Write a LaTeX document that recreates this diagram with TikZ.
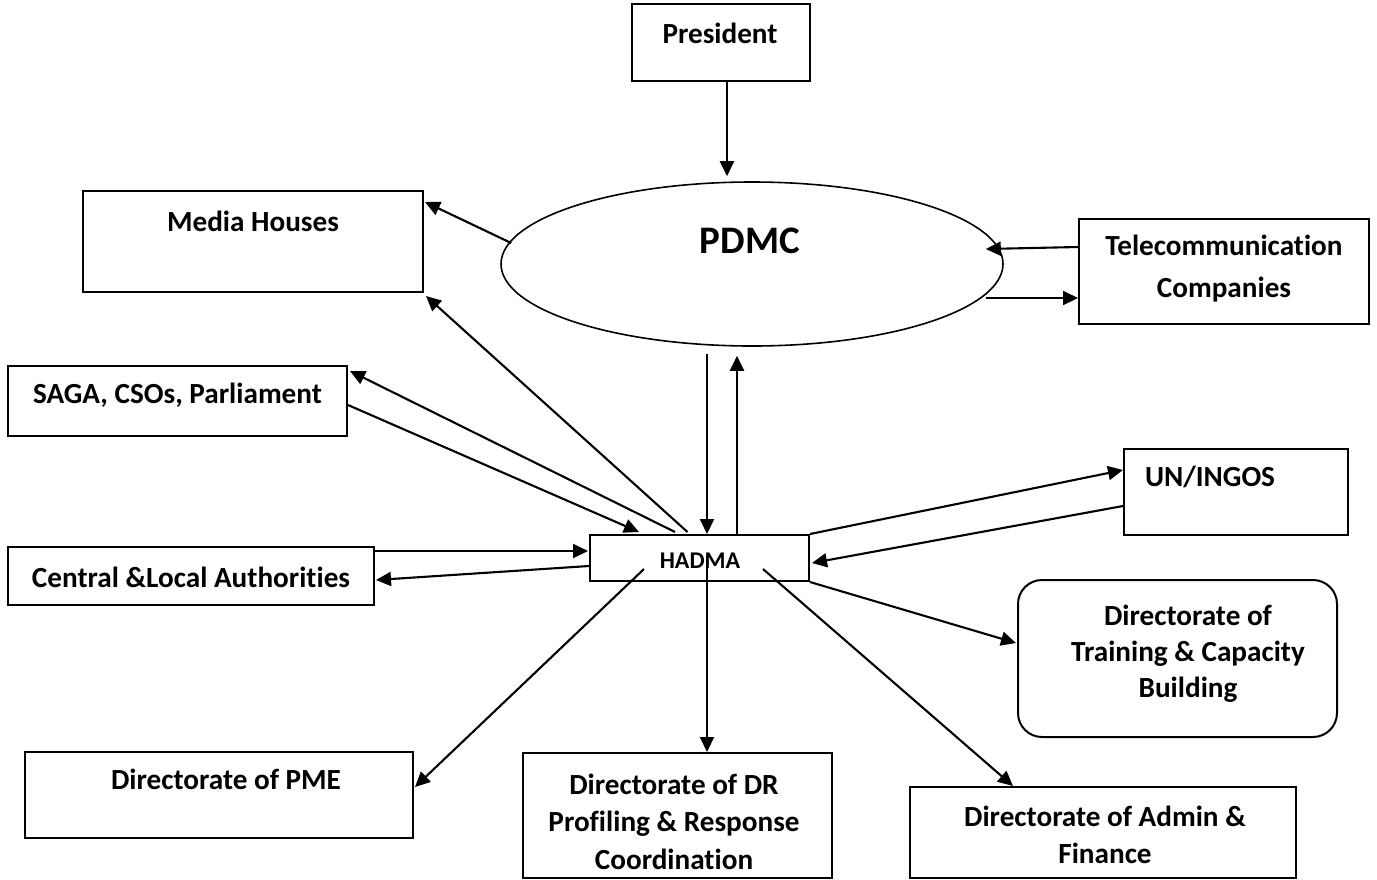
\documentclass[tikz,border=0pt]{standalone}
\usepackage{fontspec}
\setmainfont{Carlito}[Ligatures={NoCommon}]
\usetikzlibrary{arrows.meta,calc,shapes.geometric}
\begin{document}
\begin{tikzpicture}[x=0.5pt,y=-0.5pt,
  box/.style={draw, line width=1pt, rectangle, inner sep=0pt},
  lbl/.style={font=\fontsize{14.6pt}{18.5pt}\selectfont\bfseries, align=center, inner sep=0pt},
  arr/.style={line width=1.05pt, -{Triangle[length=7.5pt,width=7pt]}},
  ln/.style={line width=1pt}
]
\useasboundingbox (0,0) rectangle (1377,879);
% boxes
\node[box, minimum width=89pt, minimum height=38.5pt] (pres) at (721,42.5) {};
\node[box, minimum width=170pt, minimum height=50.5pt] (media) at (253,241.5) {};
\node[draw, ellipse, line width=0.8pt, inner sep=0pt, minimum width=251pt, minimum height=82pt] (pdmc) at (752,264) {};
\node[box, minimum width=145pt, minimum height=52.5pt] (tele) at (1224,271.5) {};
\node[box, minimum width=169.5pt, minimum height=35pt] (saga) at (177.5,401) {};
\node[box, minimum width=183pt, minimum height=29pt] (central) at (191,576) {};
\node[box, minimum width=109.5pt, minimum height=23pt] (hadma) at (699.5,558) {};
\node[box, minimum width=112pt, minimum height=43pt] (un) at (1236,492) {};
\node[box, rounded corners=12pt, minimum width=159.5pt, minimum height=78.5pt] (train) at (1177.5,658.5) {};
\node[box, minimum width=194pt, minimum height=43pt] (pme) at (219,795) {};
\node[box, minimum width=154.5pt, minimum height=62.5pt] (dr) at (677.5,815.5) {};
\node[box, minimum width=193pt, minimum height=45.5pt] (admin) at (1103,832.5) {};
% texts
\node[lbl] (presT) at (720,33) {President};
\node[lbl] (mediaT) at (253,221) {Media Houses};
\node[lbl, font=\fontsize{19.5pt}{23pt}\selectfont\bfseries] (pdmcT) at (750,241) {PDMC};
\node[lbl, font=\fontsize{14.6pt}{21pt}\selectfont\bfseries] (teleT) at (1224,269) {Telecommunication\\Companies};
\node[lbl] (sagaT) at (177.5,395) {SAGA, CSOs, Parliament};
\node[lbl] (centralT) at (191,577) {Central \&Local Authorities};
\node[lbl, font=\fontsize{12pt}{14pt}\selectfont\bfseries] (hadmaT) at (700,561) {HADMA};
\node[lbl] (unT) at (1210,477) {UN/INGOS};
\node[lbl, font=\fontsize{14.6pt}{18pt}\selectfont\bfseries] (trainT) at (1188,654) {Directorate of\\Training \& Capacity\\Building};
\node[lbl] (pmeT) at (226,779) {Directorate of PME};
\node[lbl, font=\fontsize{14.6pt}{18.75pt}\selectfont\bfseries] (drT) at (674,821.5) {Directorate of DR\\Profiling \& Response\\Coordination};
\node[lbl] (adminT) at (1105,834.5) {Directorate of Admin \&\\Finance};
% connectors
\draw[arr] ($(pres.south)+(6,0)$) -- ($(pdmc.north)+(-25,-5)$);
\draw[arr] ($(pdmc.west)+(11,-21)$) -- ($(media.north east)+(1,12)$);
\draw[arr] ($(hadma.north)+(-12,-2)$) -- ($(media.south east)+(2,3)$);
\draw[arr] ($(tele.west)+(0,-24.5)$) -- ($(pdmc.east)+(-18,-15)$);
\draw[arr] ($(pdmc.east)+(-18,34)$) -- ($(tele.west)+(0,26.5)$);
\draw[arr] ($(pdmc.south)+(-45,7)$) -- ($(hadma.north)+(7.5,0)$);
\draw[arr] ($(hadma.north)+(37.5,0)$) -- ($(pdmc.south)+(-15,9)$);
\draw[arr] ($(hadma.north)+(-24.5,-2)$) -- ($(saga.north east)+(2,6)$);
\draw[arr] ($(saga.east)+(0,4)$) -- ($(hadma.north west)+(50,-2)$);
\draw[arr] ($(central.east)+(0,-25)$) -- ($(hadma.west)+(-1,-7)$);
\draw[arr] ($(hadma.west)+(0,8)$) -- ($(central.east)+(1,4)$);
\draw[arr] (hadma.north east) -- ($(un.west)+(0,-22)$);
\draw[arr] ($(un.west)+(0,14)$) -- ($(hadma.east)+(2,5)$);
\draw[arr] (hadma.south east) -- ($(train.west)+(-1,-15.5)$);
\draw[arr] ($(hadma.south west)+(55,-13)$) -- ($(pme.east)+(1,-8)$);
\draw[arr] ($(hadma.center)+(7.5,-2)$) -- ($(dr.north)+(29.5,0)$);
\draw[arr] ($(hadma.south east)+(-47,-13)$) -- ($(admin.north west)+(104,0)$);
\end{tikzpicture}
\end{document}
